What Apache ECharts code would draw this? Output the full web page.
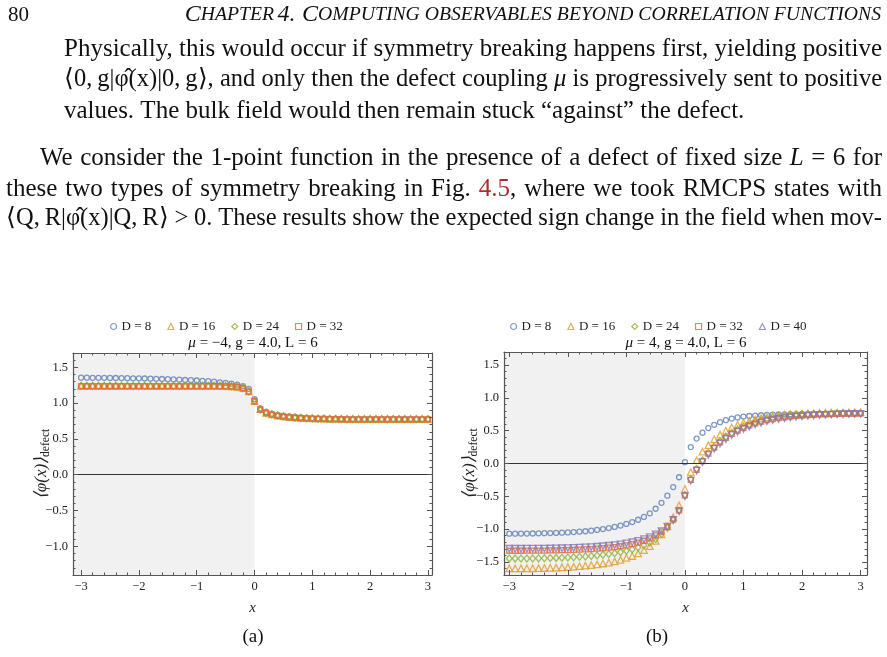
<!DOCTYPE html>
<html>
<head>
<meta charset="utf-8">
<script src="https://cdn.jsdelivr.net/npm/echarts@6/dist/echarts.min.js"></script>
<style>
  html, body { margin: 0; padding: 0; background: #fff; }
  #chart { width: 887px; height: 657px; }
</style>
</head>
<body>
<div id="chart"></div>
<script>
// sample positions (both panels)
const xs = [-3.0,-2.9,-2.8,-2.7,-2.6,-2.5,-2.4,-2.3,-2.2,-2.1,-2.0,-1.9,-1.8,-1.7,-1.6,-1.5,-1.4,-1.3,-1.2,-1.1,
  -1.0,-0.9,-0.8,-0.7,-0.6,-0.5,-0.4,-0.3,-0.2,-0.1,0.0,0.1,0.2,0.3,0.4,0.5,0.6,0.7,0.8,0.9,
  1.0,1.1,1.2,1.3,1.4,1.5,1.6,1.7,1.8,1.9,2.0,2.1,2.2,2.3,2.4,2.5,2.6,2.7,2.8,2.9,3.0];

const seriesNames = ['D = 8', 'D = 16', 'D = 24', 'D = 32', 'D = 40'];

// panel (a): mu = -4
const aD8 = [1.355,1.355,1.354,1.354,1.353,1.352,1.351,1.350,1.349,1.347,1.346,1.344,1.342,1.340,1.337,1.334,1.331,1.327,1.323,1.320,
  1.316,1.312,1.306,1.299,1.290,1.282,1.272,1.258,1.238,1.200,1.055,0.925,0.877,0.853,0.837,0.824,0.814,0.806,0.800,0.795,
  0.791,0.788,0.786,0.784,0.782,0.781,0.780,0.780,0.780,0.780,0.780,0.780,0.780,0.780,0.780,0.780,0.780,0.780,0.780,0.780,0.780];
const aD16 = [1.242,1.242,1.242,1.242,1.242,1.242,1.242,1.242,1.242,1.242,1.242,1.242,1.242,1.242,1.242,1.242,1.242,1.242,1.242,1.242,
  1.242,1.242,1.242,1.242,1.241,1.239,1.236,1.229,1.212,1.165,1.030,0.915,0.866,0.843,0.827,0.815,0.806,0.800,0.795,0.791,
  0.788,0.785,0.783,0.781,0.780,0.779,0.778,0.778,0.778,0.778,0.778,0.778,0.778,0.778,0.778,0.778,0.778,0.778,0.778,0.778,0.778];
const aD24 = [1.240,1.240,1.240,1.240,1.240,1.240,1.240,1.240,1.240,1.240,1.240,1.240,1.240,1.240,1.240,1.240,1.240,1.240,1.240,1.240,
  1.240,1.240,1.240,1.240,1.239,1.237,1.234,1.227,1.210,1.163,1.028,0.913,0.864,0.841,0.825,0.813,0.804,0.798,0.793,0.789,
  0.786,0.783,0.781,0.779,0.778,0.777,0.776,0.776,0.776,0.776,0.776,0.776,0.776,0.776,0.776,0.776,0.776,0.776,0.776,0.776,0.776];
const aD32 = [1.238,1.238,1.238,1.238,1.238,1.238,1.238,1.238,1.238,1.238,1.238,1.238,1.238,1.238,1.238,1.238,1.238,1.238,1.238,1.238,
  1.238,1.238,1.238,1.238,1.237,1.235,1.232,1.225,1.208,1.161,1.026,0.911,0.862,0.839,0.823,0.811,0.802,0.796,0.791,0.787,
  0.784,0.781,0.779,0.777,0.776,0.775,0.774,0.774,0.774,0.774,0.774,0.774,0.774,0.774,0.774,0.774,0.774,0.774,0.774,0.774,0.774];

// panel (b): mu = 4
const bD8 = [-1.070,-1.070,-1.069,-1.068,-1.067,-1.065,-1.063,-1.061,-1.058,-1.055,-1.051,-1.046,-1.040,-1.033,-1.024,-1.013,-1.000,-0.985,-0.967,-0.946,
  -0.922,-0.893,-0.858,-0.815,-0.760,-0.690,-0.600,-0.490,-0.360,-0.210,0.020,0.250,0.380,0.470,0.540,0.590,0.630,0.660,0.685,0.702,
  0.715,0.724,0.731,0.736,0.740,0.744,0.747,0.750,0.752,0.754,0.755,0.756,0.757,0.758,0.758,0.759,0.759,0.760,0.760,0.760,0.760];
const bD16 = [-1.600,-1.600,-1.599,-1.598,-1.597,-1.595,-1.593,-1.590,-1.587,-1.583,-1.578,-1.573,-1.566,-1.558,-1.549,-1.538,-1.525,-1.510,-1.492,-1.468,
  -1.440,-1.410,-1.370,-1.320,-1.260,-1.180,-1.080,-0.960,-0.820,-0.640,-0.390,-0.130,0.050,0.180,0.280,0.370,0.440,0.500,0.550,0.590,
  0.622,0.650,0.673,0.692,0.708,0.722,0.733,0.742,0.750,0.756,0.761,0.765,0.768,0.771,0.773,0.775,0.776,0.777,0.778,0.779,0.780];
const bD24 = [-1.450,-1.450,-1.449,-1.448,-1.447,-1.446,-1.444,-1.442,-1.439,-1.436,-1.432,-1.428,-1.423,-1.417,-1.410,-1.402,-1.392,-1.381,-1.367,-1.351,
  -1.332,-1.309,-1.281,-1.247,-1.205,-1.150,-1.075,-0.980,-0.860,-0.720,-0.480,-0.240,-0.080,0.050,0.165,0.260,0.340,0.410,0.470,0.520,
  0.562,0.598,0.628,0.653,0.674,0.691,0.705,0.717,0.727,0.735,0.742,0.747,0.752,0.756,0.759,0.762,0.764,0.766,0.767,0.768,0.769];
const bD32 = [-1.330,-1.330,-1.330,-1.329,-1.329,-1.328,-1.327,-1.326,-1.324,-1.322,-1.320,-1.317,-1.314,-1.310,-1.305,-1.299,-1.292,-1.284,-1.274,-1.262,
  -1.247,-1.229,-1.206,-1.178,-1.142,-1.097,-1.040,-0.965,-0.855,-0.715,-0.485,-0.250,-0.095,0.035,0.150,0.242,0.322,0.392,0.452,0.502,
  0.545,0.582,0.613,0.638,0.660,0.678,0.693,0.705,0.716,0.725,0.732,0.738,0.743,0.748,0.751,0.754,0.757,0.759,0.761,0.762,0.763];
const bD40 = [-1.300,-1.300,-1.300,-1.299,-1.299,-1.298,-1.297,-1.296,-1.294,-1.292,-1.290,-1.287,-1.284,-1.280,-1.275,-1.269,-1.262,-1.254,-1.244,-1.232,
  -1.218,-1.201,-1.180,-1.154,-1.122,-1.082,-1.030,-0.962,-0.860,-0.725,-0.500,-0.262,-0.110,0.020,0.132,0.224,0.303,0.372,0.432,0.482,
  0.525,0.562,0.594,0.620,0.643,0.662,0.678,0.691,0.702,0.712,0.720,0.727,0.733,0.738,0.742,0.746,0.749,0.752,0.754,0.756,0.758];

// tick labels
const xTicks = [-3, -2, -1, 0, 1, 2, 3];
const aYTicks = [-1.0, -0.5, 0.0, 0.5, 1.0, 1.5];
const bYTicks = [-1.5, -1.0, -0.5, 0.0, 0.5, 1.0, 1.5];

const SERIF = '"Liberation Serif", "Times New Roman", serif';
const FRAME = '#555';
const INK = '#222';
const colors = ['#5e81b5', '#e19c24', '#8fb032', '#eb6235', '#8778b3'];
const symbols = ['circle', 'triangle', 'diamond', 'rect', 'triangle'];
const symbolSizes = [5, 6.5, [5.5, 7], 5, 6.5];
const symbolRotates = [0, 0, 0, 0, 180];

const aX = [-3.14, 3.07], aY = [-1.40, 1.70];
const bX = [-3.09, 3.11], bY = [-1.70, 1.70];

function minorTicks(range, step, major) {
  const out = [];
  for (let n = Math.ceil(range[0] / step - 1e-9); n <= Math.floor(range[1] / step + 1e-9); n++) {
    const v = +(n * step).toFixed(4);
    const r = v / major;
    if (Math.abs(r - Math.round(r)) > 1e-6) out.push(v);
  }
  return out;
}

const minus = s => String(s).replace('-', '\u2212');

function frameAxes(gridIndex, position, range, majors, minors, label, nameOpt) {
  const common = {
    type: 'value', gridIndex, position, min: range[0], max: range[1], z: 10,
    splitLine: { show: false }, silent: true
  };
  const main = Object.assign({}, common, {
    axisLine: { show: true, onZero: false, lineStyle: { color: FRAME, width: 1.2 } },
    axisTick: { show: true, inside: true, length: 5, customValues: majors, lineStyle: { color: FRAME, width: 1 } },
    axisLabel: label ? {
      show: true, customValues: majors, margin: 5, color: INK, fontFamily: SERIF, fontSize: 12.5,
      formatter: label
    } : { show: false }
  }, nameOpt || {});
  const minor = Object.assign({}, common, {
    axisLine: { show: false, onZero: false },
    axisTick: { show: true, inside: true, length: 2.5, customValues: minors, lineStyle: { color: FRAME, width: 1 } },
    axisLabel: { show: false }
  });
  return [main, minor];
}

const xFmt = v => minus(Math.round(v));
const yFmt = v => minus(v.toFixed(1));

const xName = {
  name: 'x', nameLocation: 'middle', nameGap: 26,
  nameTextStyle: { fontFamily: SERIF, fontStyle: 'italic', fontSize: 15, color: INK }
};
function yName(gap) {
  return {
    name: '{a|\u27E8\u03C6(x)\u27E9}{s|defect}', nameLocation: 'middle', nameGap: gap, nameRotate: 90,
    nameMoveOverlap: false,
    nameTextStyle: {
      color: INK,
      rich: {
        a: { fontFamily: SERIF, fontStyle: 'italic', fontSize: 17, color: INK, lineHeight: 20 },
        s: { fontFamily: SERIF, fontSize: 11.5, color: INK, verticalAlign: 'bottom', padding: [8, 0, 0, 0] }
      }
    }
  };
}

const xAxes = [
  ...frameAxes(0, 'bottom', aX, xTicks, minorTicks(aX, 0.2, 1), xFmt, xName),
  ...frameAxes(0, 'top', aX, xTicks, minorTicks(aX, 0.2, 1), null),
  ...frameAxes(1, 'bottom', bX, xTicks, minorTicks(bX, 0.2, 1), xFmt, xName),
  ...frameAxes(1, 'top', bX, xTicks, minorTicks(bX, 0.2, 1), null)
];
const yAxes = [
  ...frameAxes(0, 'left', aY, aYTicks, minorTicks(aY, 0.1, 0.5), yFmt, yName(21)),
  ...frameAxes(0, 'right', aY, aYTicks, minorTicks(aY, 0.1, 0.5), null),
  ...frameAxes(1, 'left', bY, bYTicks, minorTicks(bY, 0.1, 0.5), yFmt, yName(24)),
  ...frameAxes(1, 'right', bY, bYTicks, minorTicks(bY, 0.1, 0.5), null)
];

function dots(idx, values, axisIndex) {
  return {
    name: seriesNames[idx], type: 'scatter', xAxisIndex: axisIndex, yAxisIndex: axisIndex,
    data: xs.map((x, i) => [x, values[i]]),
    symbol: symbols[idx], symbolSize: symbolSizes[idx], symbolRotate: symbolRotates[idx],
    z: 3, silent: true, emphasis: { disabled: true },
    itemStyle: { color: 'transparent', borderColor: colors[idx], borderWidth: 1.3 }
  };
}

function backdrop(axisIndex, xMin) {
  return {
    type: 'line', xAxisIndex: axisIndex, yAxisIndex: axisIndex, data: [], z: 1, silent: true,
    markArea: { silent: true, itemStyle: { color: '#f1f1f1' }, data: [[{ xAxis: xMin }, { xAxis: 0 }]] },
    markLine: {
      silent: true, symbol: 'none', label: { show: false },
      lineStyle: { color: '#333', width: 1, type: 'solid' }, data: [{ yAxis: 0 }]
    }
  };
}

const legendBase = {
  orient: 'horizontal', top: 315, itemWidth: 6, itemHeight: 6, itemGap: 16, selectedMode: false,
  itemStyle: { borderWidth: 1.2 },
  textStyle: { fontFamily: SERIF, fontSize: 13, color: INK }
};

// ---- page text, justified by hand ----
const measure = document.createElement('canvas').getContext('2d');
function fontOf(p, size) { return (p.it ? 'italic ' : '') + size + 'px ' + SERIF; }
function parseWord(w) {
  if (w.startsWith('*')) return [{ t: w.slice(1), it: true }];
  if (w.startsWith('#')) return [{ t: w.slice(1, 4), c: '#b22a2a' }, { t: w.slice(4) }];
  return [{ t: w }];
}
const bodyLines = [
  { x0: 64, x1: 882, y: 49, size: 25, just: true, s: 'Physically, this would occur if symmetry breaking happens first, yielding positive' },
  { x0: 64, x1: 882, y: 80, size: 24.5, just: true, s: '\u27E80,\u2009g|\u03C6\u0302(x)|0,\u2009g\u27E9, and only then the defect coupling *\u03BC is progressively sent to positive' },
  { x0: 64, x1: 882, y: 111, size: 25, just: false, s: 'values. The bulk field would then remain stuck \u201Cagainst\u201D the defect.' },
  { x0: 40, x1: 882, y: 158, size: 25, just: true, s: 'We consider the 1-point function in the presence of a defect of fixed size *L = 6 for' },
  { x0: 6, x1: 882, y: 189, size: 25, just: true, s: 'these two types of symmetry breaking in Fig. #4.5, where we took RMCPS states with' },
  { x0: 6, x1: 882, y: 219, size: 24.5, just: true, s: '\u27E8Q,\u2009R|\u03C6\u0302(x)|Q,\u2009R\u27E9 > 0. These results show the expected sign change in the field when mov-' }
];
const pageText = [];
bodyLines.forEach(line => {
  const words = line.s.split(' ').map(parseWord);
  const widths = words.map(parts => parts.reduce((acc, p) => {
    measure.font = fontOf(p, line.size);
    return acc + measure.measureText(p.t).width;
  }, 0));
  const total = widths.reduce((a, b) => a + b, 0);
  measure.font = fontOf({}, line.size);
  const gap = line.just ? (line.x1 - line.x0 - total) / (words.length - 1) : measure.measureText(' ').width;
  let x = line.x0;
  words.forEach((parts, i) => {
    let px = x;
    parts.forEach(p => {
      measure.font = fontOf(p, line.size);
      pageText.push({
        type: 'text', x: px, y: line.y, silent: true,
        style: { text: p.t, font: fontOf(p, line.size), fill: p.c || '#111', align: 'left', verticalAlign: 'middle' }
      });
      px += measure.measureText(p.t).width;
    });
    x += widths[i] + gap;
  });
});

function label(text, x, y, size, extra) {
  return {
    type: 'text', x, y, silent: true,
    style: Object.assign({ text, fontFamily: SERIF, fontSize: size, fill: '#111', align: 'center', verticalAlign: 'middle' }, extra || {})
  };
}

const graphics = pageText.concat([
  label('80', 8, 15, 21, { align: 'left' }),
  {
    type: 'text', x: 881, y: 15, silent: true,
    style: {
      text: '{b|C}{s|HAPTER} {b|4.}  {b|C}{s|OMPUTING OBSERVABLES BEYOND CORRELATION FUNCTIONS}',
      align: 'right', verticalAlign: 'middle', fill: '#111',
      rich: {
        b: { fontFamily: SERIF, fontStyle: 'italic', fontSize: 24, fill: '#111' },
        s: { fontFamily: SERIF, fontStyle: 'italic', fontSize: 19.7, fill: '#111' }
      }
    }
  },
  label('{i|\u03BC} = \u22124, g = 4.0, L = 6', 253, 343, 15, {
    rich: { i: { fontFamily: SERIF, fontStyle: 'italic', fontSize: 15 } }
  }),
  label('{i|\u03BC} = 4, g = 4.0, L = 6', 686, 343, 15, {
    rich: { i: { fontFamily: SERIF, fontStyle: 'italic', fontSize: 15 } }
  }),
  label('(a)', 253, 637, 19),
  label('(b)', 657, 637, 19)
]);

const chart = echarts.init(document.getElementById('chart'), null, { renderer: 'canvas' });
chart.setOption({
  animation: false,
  backgroundColor: '#fff',
  grid: [
    { left: 73, right: 455, top: 353, bottom: 82 },
    { left: 504, right: 20, top: 352, bottom: 82 }
  ],
  xAxis: xAxes,
  yAxis: yAxes,
  legend: [
    Object.assign({}, legendBase, { left: 105, data: seriesNames.slice(0, 4) }),
    Object.assign({}, legendBase, { left: 505, data: seriesNames })
  ],
  graphic: graphics,
  series: [
    backdrop(0, aX[0]),
    backdrop(4, bX[0]),
    dots(0, aD8, 0), dots(1, aD16, 0), dots(2, aD24, 0), dots(3, aD32, 0),
    dots(0, bD8, 4), dots(1, bD16, 4), dots(2, bD24, 4), dots(3, bD32, 4), dots(4, bD40, 4)
  ]
});
</script>
</body>
</html>
